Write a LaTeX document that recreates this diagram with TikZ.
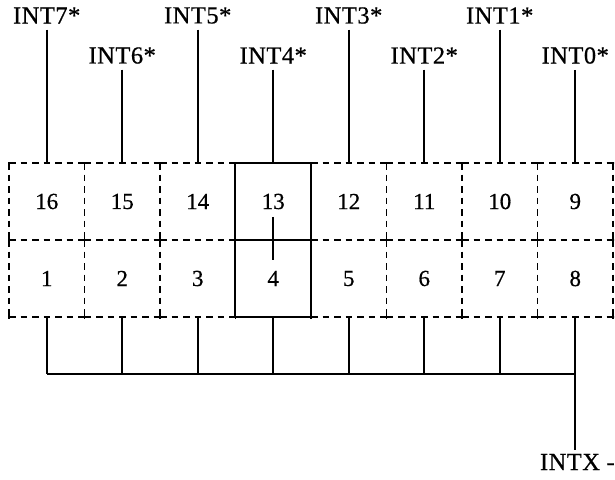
\documentclass[tikz,border=0pt]{standalone}
\usepackage{fontspec}
\setmainfont{Liberation Serif}[FakeBold=0.6]
\usetikzlibrary{calc}
\begin{document}
\begin{tikzpicture}[x=1pt,y=-1pt,
  wire/.style={line width=1.9pt},
  gridd/.style={line width=1.9pt,dash pattern=on 6.5pt off 5pt},
  cell/.style={minimum width=75.5pt,minimum height=77pt,inner sep=0pt,
    font=\fontsize{23}{26}\selectfont},
  lbl/.style={inner sep=0pt,outer sep=6pt,
    font=\fontsize{24.5}{28}\selectfont\addfontfeatures{LetterSpace=2}}]
\useasboundingbox (0,0) rectangle (615,479);
% cells: top row 16..9, bottom row 1..8
\foreach \k in {0,...,7}{
  \pgfmathtruncatemacro{\t}{16-\k}
  \pgfmathtruncatemacro{\b}{\k+1}
  \node[cell] (c\t) at ({9+75.5*\k+37.75},201.5) {\t};
  \node[cell] (c\b) at ({9+75.5*\k+37.75},278.5) {\b};
}
% dashed grid
\foreach \y in {163,240,317}
  \foreach \k in {0,...,7}
    \draw[gridd] ({9+75.5*\k},\y) -- ({9+75.5*(\k+1)},\y);
\foreach \k in {0,...,8}{
  \draw[gridd] ({9+75.5*\k},163) -- ({9+75.5*\k},240);
  \draw[gridd] ({9+75.5*\k},240) -- ({9+75.5*\k},317);
}
% solid ticks at grid crossings
\begin{scope}
  \clip (8,162) rectangle (614,318);
  \foreach \y in {163,240,317}
    \foreach \k in {0,...,8}
      \draw[wire] ({9+75.5*\k-6},\y) -- ({9+75.5*\k+6},\y)
                  ({9+75.5*\k},\y-6) -- ({9+75.5*\k},\y+6);
\end{scope}
% solid column 13/4
\draw[wire] (c13.north west) rectangle (c4.south east);
\draw[wire] (c4.north west) -- (c4.north east);
\draw[wire] ($(c13.center)!0.2!(c4.center)$) -- ($(c13.center)!0.76!(c4.center)$);
% labels
\node[lbl] (i7) at (c16.center |- 0,15.5) {INT7*};
\node[lbl] (i6) at (c15.center |- 0,55.5) {INT6*};
\node[lbl] (i5) at (c14.center |- 0,15.5) {INT5*};
\node[lbl] (i4) at (c13.center |- 0,55.5) {INT4*};
\node[lbl] (i3) at (c12.center |- 0,15.5) {INT3*};
\node[lbl] (i2) at (c11.center |- 0,55.5) {INT2*};
\node[lbl] (i1) at (c10.center |- 0,15.5) {INT1*};
\node[lbl] (i0) at (c9.center |- 0,55.5) {INT0*};
\draw[wire] (i7.south) -- (c16.north);
\draw[wire] (i6.south) -- (c15.north);
\draw[wire] (i5.south) -- (c14.north);
\draw[wire] (i4.south) -- (c13.north);
\draw[wire] (i3.south) -- (c12.north);
\draw[wire] (i2.south) -- (c11.north);
\draw[wire] (i1.south) -- (c10.north);
\draw[wire] (i0.south) -- (c9.north);
% bus
\coordinate (bus) at (0,374);
\node[lbl,anchor=west,outer sep=4pt] (intx) at (536,462) {INTX -};
\foreach \b in {1,...,7}
  \draw[wire] (c\b.south) -- (c\b.south |- bus);
\draw[wire] (c1.south |- bus) -- (c8.south |- bus);
\draw[wire] (c8.south) -- (c8.south |- intx.north);
\end{tikzpicture}
\end{document}
